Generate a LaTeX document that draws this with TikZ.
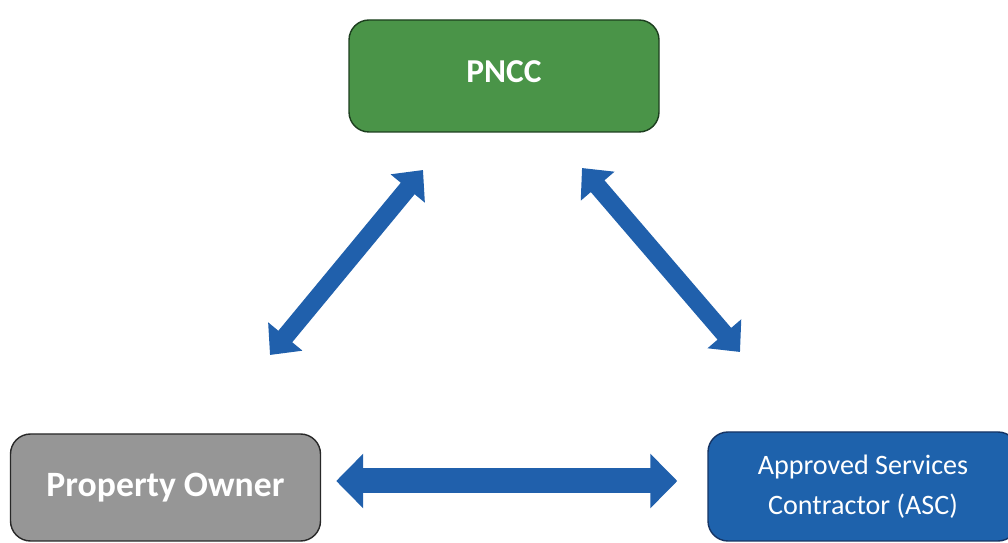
\documentclass[tikz,border=0pt]{standalone}
\usepackage{fontspec}
\setmainfont{Carlito}
\usetikzlibrary{arrows.meta}
\usetikzlibrary{positioning}
\definecolor{pnccfill}  {RGB}{74,148,72}
\definecolor{pnccline}  {RGB}{28,62,30}
\definecolor{ownerfill} {RGB}{150,150,150}
\definecolor{ownerline} {RGB}{40,40,40}
\definecolor{ascfill}   {RGB}{30,98,172}
\definecolor{ascline}   {RGB}{22,52,100}
\definecolor{linkblue}  {RGB}{32,96,172}

\tikzset{
  party/.style={rectangle, rounded corners=0.4cm,
                thick, text=white, align=center,
                minimum width=6.2cm, minimum height=2.2cm},
  link/.style={draw=linkblue, line width=0.36cm,
               {Triangle[length=0.48cm,width=0.86cm]}-{Triangle[length=0.48cm,width=0.86cm]}},
  biglink/.style={draw=linkblue, line width=0.5cm,
               {Triangle[length=0.54cm,width=1.06cm]}-{Triangle[length=0.54cm,width=1.06cm]}}
}

\begin{document}
\begin{tikzpicture}
            \useasboundingbox (0,0) rectangle (20.16,10.86);

            % parties
            \node (pncc)
              [party, fill=pnccfill, draw=pnccline,
               minimum height=2.24cm,
               font=\fontsize{19}{22}\selectfont\bfseries]
              at(10.08,9.34) {\raisebox{0.18cm}{PNCC}};

            \node (owner)
              [party, fill=ownerfill, draw=ownerline,
               minimum height=2.14cm,
               font=\fontsize{20.3}{22}\selectfont\bfseries]
              at(3.31,1.11) {Property Owner};

            \node (asc)
              [party, fill=ascfill, draw=ascline,
               minimum height=2.18cm,
               font=\fontsize{16}{22.5}\selectfont]
              at(17.26,1.13) {Approved Services\\Contractor (ASC)};

            % arrow ends
            \coordinate (pncc-l)  at (8.46,7.46);
            \coordinate (owner-t) at (5.40,3.76);
            \coordinate (pncc-r)  at (11.64,7.50);
            \coordinate (asc-t)   at (14.80,3.82);

            % links
            \draw [link] (owner-t) -- (pncc-l);
            \draw [link] (pncc-r) -- (asc-t);
            \draw [biglink, shorten <=0.3cm, shorten >=0.6cm]
              (owner.east |- 0,1.24) -- (asc.west |- 0,1.24);
        \end{tikzpicture}
\end{document}
